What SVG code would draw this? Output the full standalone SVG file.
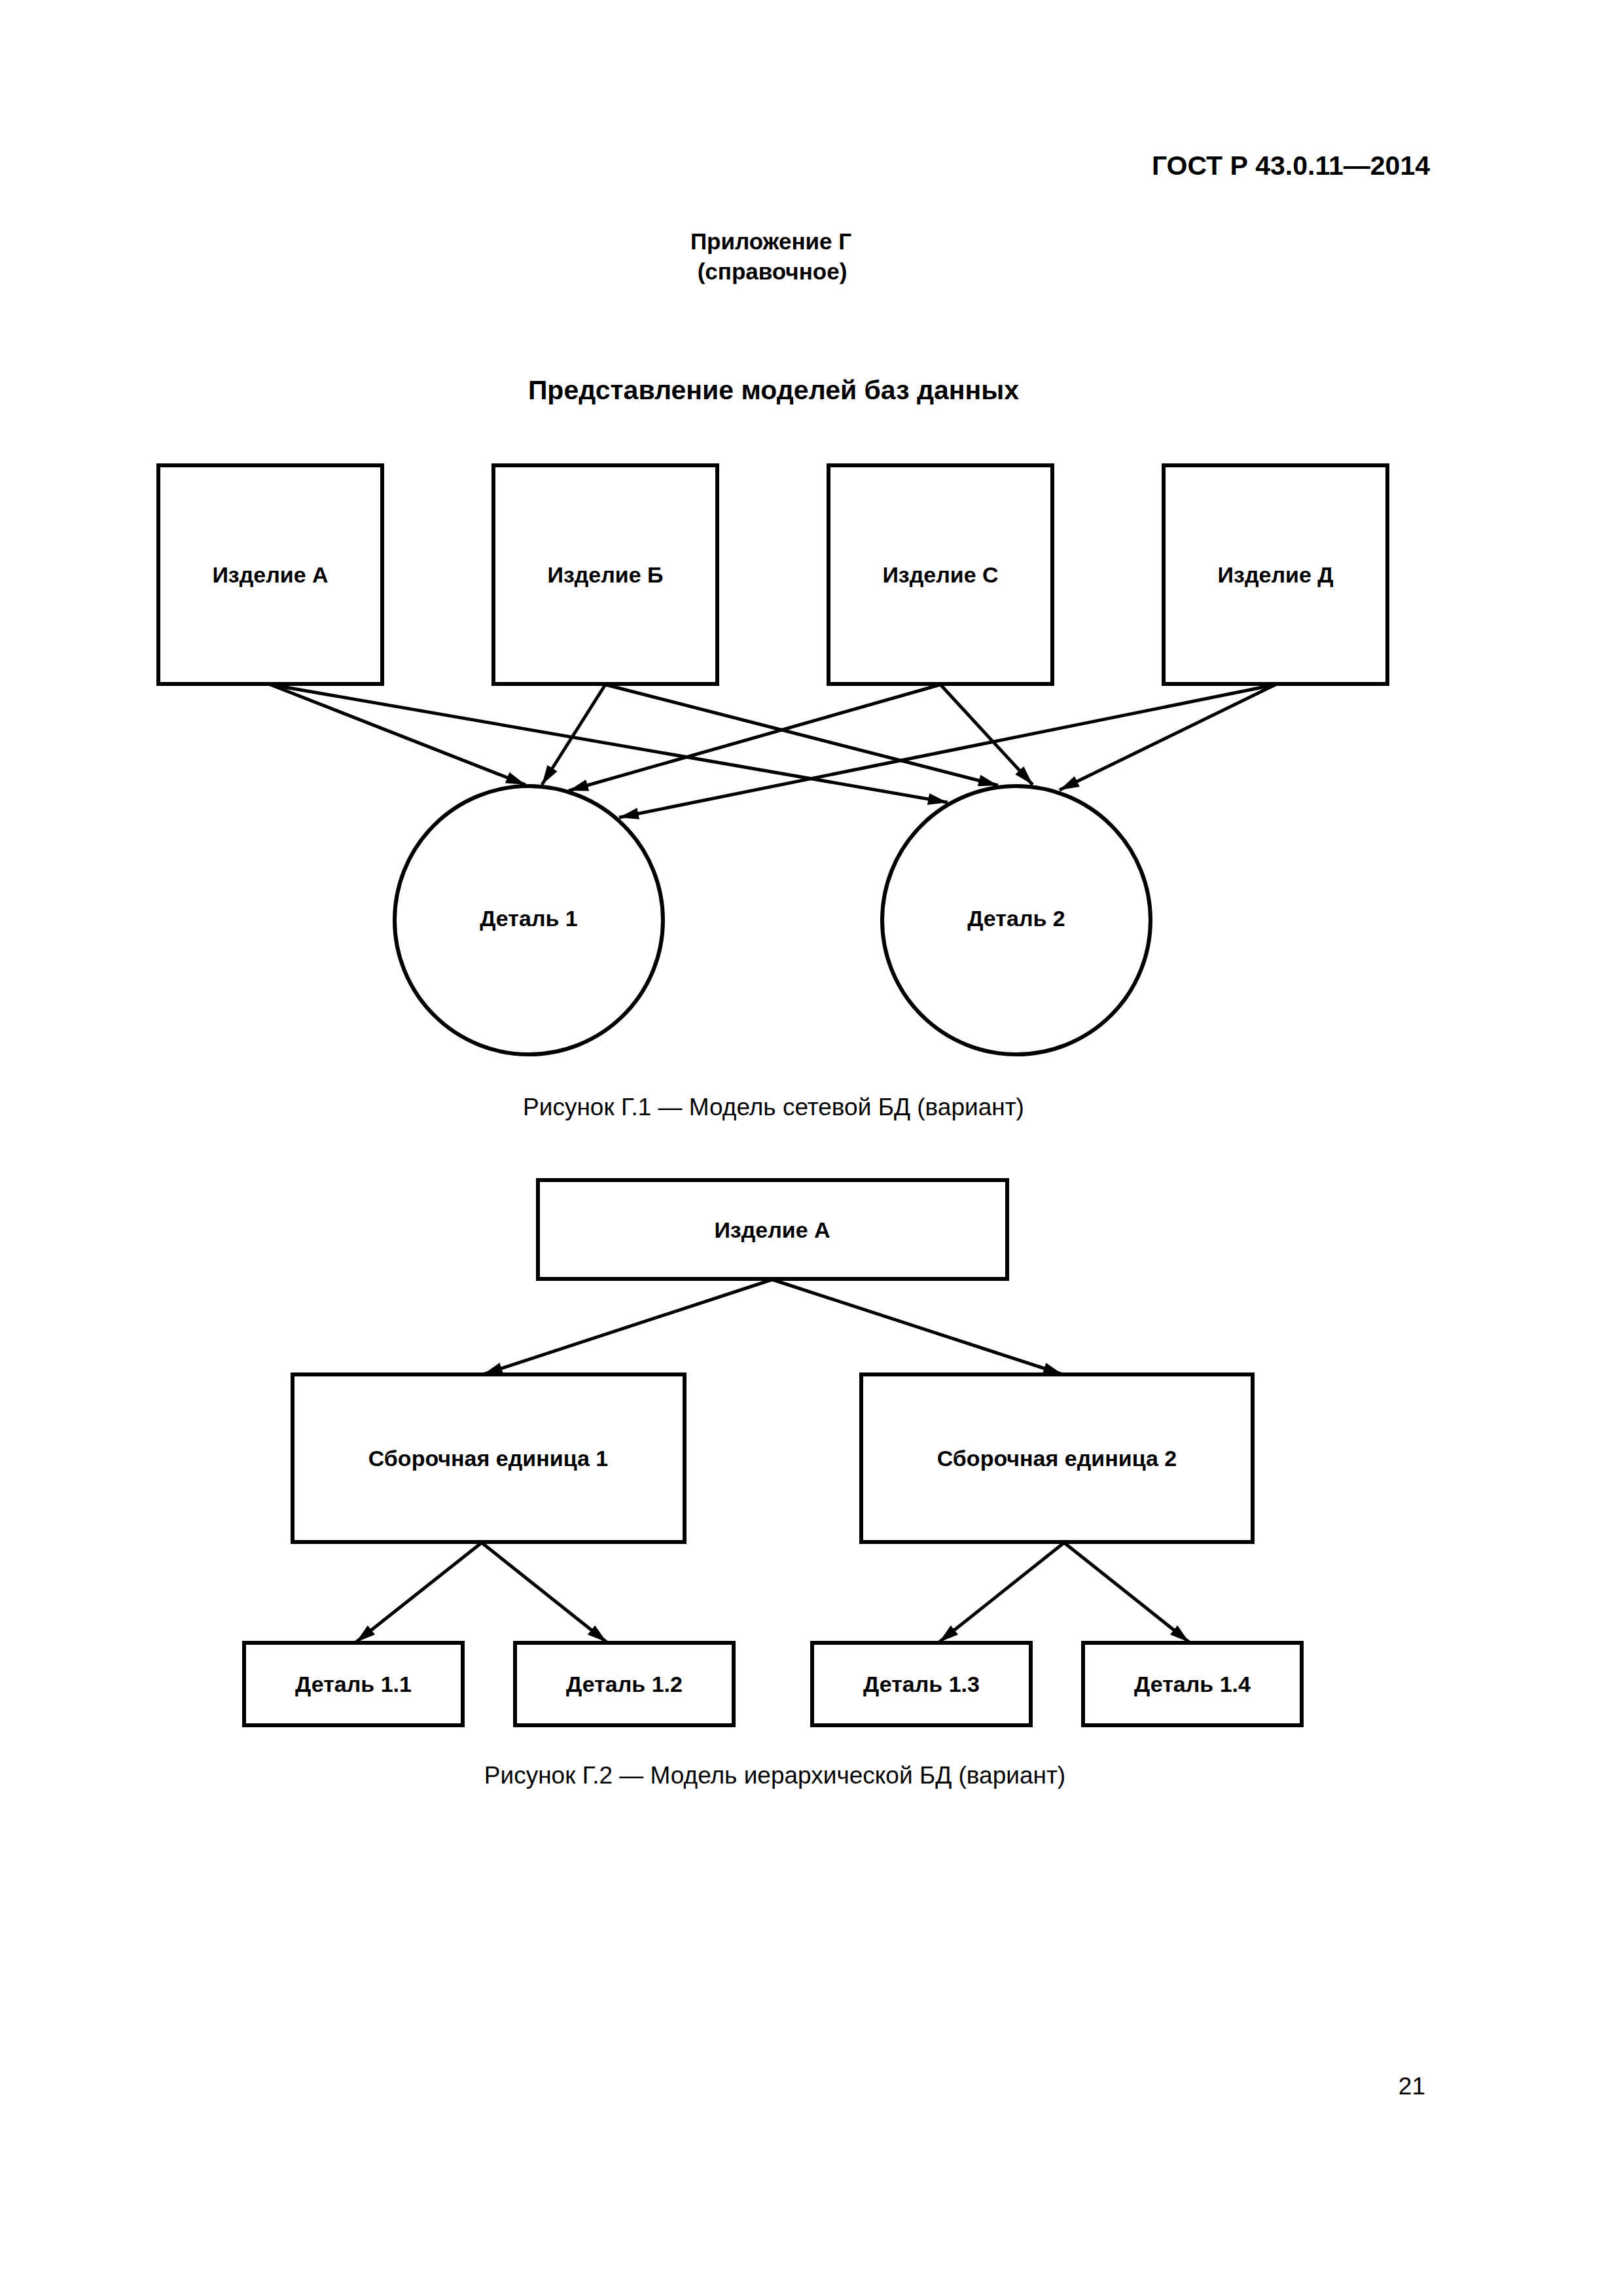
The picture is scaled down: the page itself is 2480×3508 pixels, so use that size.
<svg xmlns="http://www.w3.org/2000/svg" width="2480" height="3508" viewBox="0 0 2480 3508">
<defs>
<style>
.node{fill:#fff;stroke:#000;stroke-width:6}
.lbl{font-family:"Liberation Sans",Arial,sans-serif;font-size:34px;font-weight:bold;text-anchor:middle;fill:#000}
.cap{font-family:"Liberation Sans",Arial,sans-serif;font-size:37px;text-anchor:middle;fill:#000}
.hd{font-family:"Liberation Sans",Arial,sans-serif;font-weight:bold;fill:#000}
.con{stroke:#000;stroke-width:5;fill:none;marker-end:url(#arr)}
</style>
<marker id="arr" markerUnits="userSpaceOnUse" markerWidth="30" markerHeight="18" refX="30" refY="9" orient="auto">
<path d="M0,0 L30,9 L0,18 z" fill="#000"/>
</marker>
</defs>
<rect width="2480" height="3508" fill="#fff"/>
<text class="hd" x="2185" y="267" font-size="41" text-anchor="end">ГОСТ Р 43.0.11—2014</text>
<text class="hd" x="1178" y="381" font-size="35" text-anchor="middle">Приложение Г</text>
<text class="hd" x="1180" y="427" font-size="35" text-anchor="middle">(справочное)</text>
<text class="hd" x="1182" y="610" font-size="41" text-anchor="middle">Представление моделей баз данных</text>

<g id="connectors">
<line class="con" x1="413" y1="1046" x2="803" y2="1199"/>
<line class="con" x1="413" y1="1046" x2="1448" y2="1226"/>
<line class="con" x1="925" y1="1046" x2="828" y2="1199"/>
<line class="con" x1="925" y1="1046" x2="1525" y2="1200"/>
<line class="con" x1="1437" y1="1046" x2="869" y2="1208"/>
<line class="con" x1="1437" y1="1046" x2="1578" y2="1199"/>
<line class="con" x1="1949" y1="1046" x2="946" y2="1249"/>
<line class="con" x1="1949" y1="1046" x2="1619" y2="1207"/>
<line class="con" x1="1180" y1="1955" x2="738" y2="2100"/>
<line class="con" x1="1180" y1="1955" x2="1624" y2="2100"/>
<line class="con" x1="736" y1="2357" x2="544" y2="2509"/>
<line class="con" x1="736" y1="2357" x2="927" y2="2509"/>
<line class="con" x1="1626" y1="2357" x2="1435" y2="2509"/>
<line class="con" x1="1626" y1="2357" x2="1817" y2="2509"/>
</g>

<g id="izd-a"><rect class="node" x="242" y="711" width="342" height="334"/><text class="lbl" x="413" y="890">Изделие А</text></g>
<g id="izd-b"><rect class="node" x="754" y="711" width="342" height="334"/><text class="lbl" x="925" y="890">Изделие Б</text></g>
<g id="izd-c"><rect class="node" x="1266" y="711" width="342" height="334"/><text class="lbl" x="1437" y="890">Изделие С</text></g>
<g id="izd-d"><rect class="node" x="1778" y="711" width="342" height="334"/><text class="lbl" x="1949" y="890">Изделие Д</text></g>
<g id="det1"><circle class="node" cx="808" cy="1406" r="205" stroke-width="5"/><text class="lbl" x="808" y="1415">Деталь 1</text></g>
<g id="det2"><circle class="node" cx="1553" cy="1406" r="205" stroke-width="5"/><text class="lbl" x="1553" y="1415">Деталь 2</text></g>
<text class="cap" x="1182" y="1704">Рисунок Г.1 — Модель сетевой БД (вариант)</text>

<g id="h-izd-a"><rect class="node" x="822" y="1803" width="717" height="151"/><text class="lbl" x="1180" y="1891">Изделие А</text></g>
<g id="se1"><rect class="node" x="447" y="2100" width="599" height="256"/><text class="lbl" x="746" y="2240">Сборочная единица 1</text></g>
<g id="se2"><rect class="node" x="1316" y="2100" width="598" height="256"/><text class="lbl" x="1615" y="2240">Сборочная единица 2</text></g>
<g id="d11"><rect class="node" x="373" y="2510" width="334" height="126"/><text class="lbl" x="540" y="2585">Деталь 1.1</text></g>
<g id="d12"><rect class="node" x="787" y="2510" width="334" height="126"/><text class="lbl" x="954" y="2585">Деталь 1.2</text></g>
<g id="d13"><rect class="node" x="1241" y="2510" width="334" height="126"/><text class="lbl" x="1408" y="2585">Деталь 1.3</text></g>
<g id="d14"><rect class="node" x="1655" y="2510" width="334" height="126"/><text class="lbl" x="1822" y="2585">Деталь 1.4</text></g>
<text class="cap" x="1184" y="2725">Рисунок Г.2 — Модель иерархической БД (вариант)</text>

<text class="cap" x="2178" y="3200" style="text-anchor:end">21</text>
</svg>
